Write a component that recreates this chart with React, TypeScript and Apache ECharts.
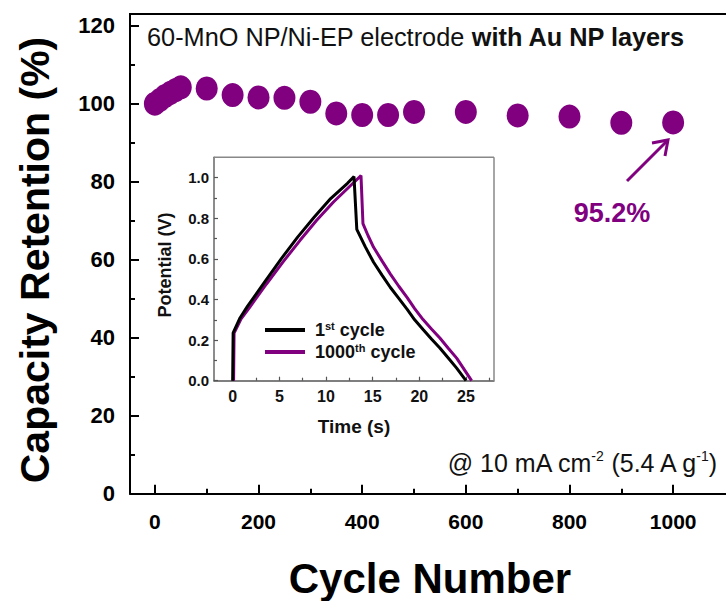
import React, { useEffect, useRef } from 'react';
import * as echarts from 'echarts';

const FONT = '"Liberation Sans", Arial, Helvetica, sans-serif';
const PURPLE = '#800080';

// Main chart: capacity retention vs. cycle number
const cycles = [0, 10, 20, 30, 40, 50, 100, 150, 200, 250, 300, 350, 400, 450, 500, 600, 700, 800, 900, 1000];
const retention = [100, 101, 102, 102.8, 103.5, 104.2, 103.9, 102.2, 101.6, 101.5, 100.5, 97.5, 97.1, 97.1, 97.9, 97.9, 97.0, 96.7, 95.1, 95.2];

const xMajorTicks = [0, 200, 400, 600, 800, 1000];
const xMinorTicks = [100, 300, 500, 700, 900];
const yMajorTicks = [0, 20, 40, 60, 80, 100, 120];
const yMinorTicks = [10, 30, 50, 70, 90, 110];

// Inset: galvanostatic charge/discharge curves
const insetTimeTicks = [0, 5, 10, 15, 20, 25];
const insetTimeMinor = [2.5, 7.5, 12.5, 17.5, 22.5, 27.5];
const insetVoltTicks = [0, 0.2, 0.4, 0.6, 0.8, 1.0];
const insetVoltMinor = [0.1, 0.3, 0.5, 0.7, 0.9];

const time1st = [0, 0.05, 0.8, 1.6, 3.4, 5.2, 6.96, 8.75, 10.5, 12.3, 13.0, 13.3, 14.2, 15.1, 16.0, 16.9, 17.8, 18.7, 19.5, 20.4, 21.3, 22.2, 23.1, 24.0, 25.0];
const volt1st = [0, 0.235, 0.31, 0.367, 0.484, 0.6, 0.707, 0.806, 0.897, 0.972, 1.005, 0.745, 0.66, 0.583, 0.52, 0.459, 0.405, 0.351, 0.3, 0.252, 0.205, 0.161, 0.112, 0.062, 0];
const time1000th = [0.1, 0.15, 0.9, 1.8, 3.6, 5.4, 7.2, 9.0, 10.8, 12.5, 13.75, 13.96, 14.5, 15.1, 16.0, 16.9, 17.8, 18.7, 19.5, 20.4, 21.3, 22.2, 23.1, 24.0, 25.6];
const volt1000th = [0, 0.235, 0.305, 0.36, 0.475, 0.585, 0.69, 0.79, 0.88, 0.955, 1.01, 0.773, 0.715, 0.657, 0.59, 0.525, 0.465, 0.409, 0.355, 0.301, 0.255, 0.21, 0.16, 0.111, 0];

const mainData = cycles.map((c, i) => [c, retention[i]]);
const data1st = time1st.map((t, i) => [t, volt1st[i]]);
const data1000th = time1000th.map((t, i) => [t, volt1000th[i]]);

export default function App() {
  const ref = useRef<HTMLDivElement>(null);

  useEffect(() => {
    if (!ref.current) return;
    const chart = echarts.init(ref.current, undefined, { renderer: 'svg' });

    const mainX = { min: -48, max: 1102 };
    const mainY = { min: 0, max: 123 };
    const insetX = { min: -2, max: 28 };
    const insetY = { min: 0, max: 1.1 };

    const option: any = {
      animation: false,
      backgroundColor: '#fff',
      textStyle: { fontFamily: FONT },
      grid: [
        { left: 130, top: 14, width: 596, height: 479.7, outerBoundsMode: 'none', containLabel: false },
        { left: 214, top: 157.3, width: 280, height: 223.4, outerBoundsMode: 'none', containLabel: false },
      ],
      xAxis: [
        {
          gridIndex: 0, type: 'value', ...mainX, position: 'bottom',
          axisLine: { show: true, onZero: false, lineStyle: { color: '#000', width: 2 } },
          axisTick: { show: true, inside: true, length: 9, lineStyle: { color: '#000', width: 2 }, customValues: xMajorTicks },
          axisLabel: {
            show: true, customValues: xMajorTicks, margin: 17, color: '#000', fontSize: 21, fontWeight: 'bold', fontFamily: FONT,
            formatter: (v: number) => String(v),
          },
          splitLine: { show: false },
        },
        {
          gridIndex: 0, type: 'value', ...mainX, position: 'bottom',
          axisLine: { show: false, onZero: false },
          axisTick: { show: true, inside: true, length: 5, lineStyle: { color: '#000', width: 2 }, customValues: xMinorTicks },
          axisLabel: { show: false },
          splitLine: { show: false },
        },
        {
          gridIndex: 1, type: 'value', ...insetX, position: 'bottom',
          axisLine: { show: true, onZero: false, lineStyle: { color: '#555', width: 1.5 } },
          axisTick: { show: true, inside: true, length: 4, lineStyle: { color: '#555', width: 1.2 }, customValues: insetTimeTicks },
          axisLabel: { show: true, customValues: insetTimeTicks, margin: 8, color: '#111', fontSize: 16, fontWeight: 'bold', fontFamily: FONT },
          splitLine: { show: false },
        },
        {
          gridIndex: 1, type: 'value', ...insetX, position: 'bottom',
          axisLine: { show: false, onZero: false },
          axisTick: { show: true, inside: true, length: 3, lineStyle: { color: '#555', width: 1.2 }, customValues: insetTimeMinor },
          axisLabel: { show: false },
          splitLine: { show: false },
        },
      ],
      yAxis: [
        {
          gridIndex: 0, type: 'value', ...mainY, position: 'left',
          axisLine: { show: true, onZero: false, lineStyle: { color: '#000', width: 2 } },
          axisTick: { show: true, inside: true, length: 9, lineStyle: { color: '#000', width: 2 }, customValues: yMajorTicks },
          axisLabel: { show: true, customValues: yMajorTicks, margin: 15, color: '#000', fontSize: 22, fontWeight: 'bold', fontFamily: FONT },
          splitLine: { show: false },
        },
        {
          gridIndex: 0, type: 'value', ...mainY, position: 'left',
          axisLine: { show: false, onZero: false },
          axisTick: { show: true, inside: true, length: 5, lineStyle: { color: '#000', width: 2 }, customValues: yMinorTicks },
          axisLabel: { show: false },
          splitLine: { show: false },
        },
        {
          gridIndex: 1, type: 'value', ...insetY, position: 'left',
          axisLine: { show: true, onZero: false, lineStyle: { color: '#666', width: 1.5 } },
          axisTick: { show: true, inside: true, length: 4, lineStyle: { color: '#555', width: 1.2 }, customValues: insetVoltTicks },
          axisLabel: {
            show: true, customValues: insetVoltTicks, margin: 5, color: '#111', fontSize: 15, fontWeight: 'bold', fontFamily: FONT,
            formatter: (v: number) => v.toFixed(1),
          },
          splitLine: { show: false },
        },
        {
          gridIndex: 1, type: 'value', ...insetY, position: 'left',
          axisLine: { show: false, onZero: false },
          axisTick: { show: true, inside: true, length: 3, lineStyle: { color: '#555', width: 1.2 }, customValues: insetVoltMinor },
          axisLabel: { show: false },
          splitLine: { show: false },
        },
      ],
      legend: {
        show: true,
        orient: 'vertical',
        left: 265,
        top: 320,
        padding: 0,
        itemGap: 3,
        itemWidth: 40,
        itemHeight: 4,
        icon: 'rect',
        data: ['1st cycle', '1000th cycle'],
        formatter: (name: string) =>
          name === '1st cycle' ? '{a|1}{s|st}{b| cycle}' : '{a|1000}{s|th}{b| cycle}',
        textStyle: {
          color: '#111',
          fontFamily: FONT,
          rich: {
            a: { fontSize: 18, fontWeight: 'bold', lineHeight: 20, padding: [0, 0, 0, 5], fontFamily: FONT, color: '#111' },
            b: { fontSize: 18, fontWeight: 'bold', lineHeight: 20, fontFamily: FONT, color: '#111' },
            s: { fontSize: 11, fontWeight: 'bold', lineHeight: 11, verticalAlign: 'top', fontFamily: FONT, color: '#111' },
          },
        },
      },
      series: [
        {
          name: 'Capacity retention',
          type: 'scatter',
          xAxisIndex: 0,
          yAxisIndex: 0,
          symbol: 'circle',
          symbolSize: [22, 24],
          itemStyle: { color: PURPLE, opacity: 1 },
          data: mainData,
          z: 5,
        },
        {
          name: '1000th cycle',
          type: 'line',
          xAxisIndex: 2,
          yAxisIndex: 2,
          showSymbol: false,
          symbol: 'none',
          lineStyle: { color: PURPLE, width: 3 },
          itemStyle: { color: PURPLE },
          data: data1000th,
          z: 3,
        },
        {
          name: '1st cycle',
          type: 'line',
          xAxisIndex: 2,
          yAxisIndex: 2,
          showSymbol: false,
          symbol: 'none',
          lineStyle: { color: '#000', width: 3 },
          itemStyle: { color: '#000' },
          data: data1st,
          z: 4,
        },
      ],
      graphic: [
        // top frame of main plot
        { type: 'line', shape: { x1: 129, y1: 14, x2: 726, y2: 14 }, style: { stroke: '#000', lineWidth: 2 }, z: 10 },
        // inset frame (top & right)
        { type: 'line', shape: { x1: 214, y1: 157.3, x2: 494, y2: 157.3 }, style: { stroke: '#888', lineWidth: 1.5 }, z: 10 },
        { type: 'line', shape: { x1: 494, y1: 157.3, x2: 494, y2: 380.7 }, style: { stroke: '#888', lineWidth: 1.5 }, z: 10 },
        // annotation text at top
        {
          type: 'text', x: 147, y: 37, z: 10,
          style: {
            text: '{n|60-MnO NP/Ni-EP electrode }{b|with Au NP layers}',
            textVerticalAlign: 'middle', textAlign: 'left',
            rich: {
              n: { fontSize: 25.3, fontFamily: FONT, fill: '#111', color: '#111' },
              b: { fontSize: 25.3, fontFamily: FONT, fontWeight: 'bold', fill: '#111', color: '#111' },
            },
          },
        },
        // current density note
        {
          type: 'text', x: 717, y: 463, z: 10,
          style: {
            text: '{n|@ 10 mA cm}{s1|-2}{n|(5.4 A g}{s2|-1}{n|)}',
            textVerticalAlign: 'middle', textAlign: 'right',
            rich: {
              n: { fontSize: 25, lineHeight: 28, fontFamily: FONT, fill: '#111', color: '#111' },
              s1: { fontSize: 14, lineHeight: 14, verticalAlign: 'top', padding: [0, 5, 0, 0], fontFamily: FONT, fill: '#111', color: '#111' },
              s2: { fontSize: 14, lineHeight: 14, verticalAlign: 'top', fontFamily: FONT, fill: '#111', color: '#111' },
            },
          },
        },
        // 95.2% label and arrow
        {
          type: 'text', x: 612, y: 213, z: 10,
          style: { text: '95.2%', textAlign: 'center', textVerticalAlign: 'middle', font: `bold 27px ${FONT}`, fill: PURPLE },
        },
        { type: 'line', shape: { x1: 627, y1: 181, x2: 667, y2: 141 }, style: { stroke: PURPLE, lineWidth: 3 }, z: 10 },
        { type: 'polyline', shape: { points: [[652, 143], [668, 140], [665, 156]] }, style: { stroke: PURPLE, lineWidth: 3, fill: 'none' }, z: 10 },
        // main axis titles
        {
          type: 'text', x: 35, y: 260, rotation: Math.PI / 2, z: 10,
          style: { text: 'Capacity Retention (%)', textAlign: 'center', textVerticalAlign: 'middle', font: `bold 41px ${FONT}`, fill: '#000' },
        },
        {
          type: 'text', x: 430, y: 578, z: 10,
          style: { text: 'Cycle Number', textAlign: 'center', textVerticalAlign: 'middle', font: `bold 42px ${FONT}`, fill: '#000' },
        },
        // inset axis titles
        {
          type: 'text', x: 165, y: 265, rotation: Math.PI / 2, z: 10,
          style: { text: 'Potential (V)', textAlign: 'center', textVerticalAlign: 'middle', font: `bold 18px ${FONT}`, fill: '#111' },
        },
        {
          type: 'text', x: 354, y: 426, z: 10,
          style: { text: 'Time (s)', textAlign: 'center', textVerticalAlign: 'middle', font: `bold 19px ${FONT}`, fill: '#111' },
        },
      ],
    };

    chart.setOption(option);
    return () => chart.dispose();
  }, []);

  return (
    <div
      ref={ref}
      style={{ position: 'fixed', left: 0, top: 0, width: 726, height: 601, background: '#fff' }}
    />
  );
}
